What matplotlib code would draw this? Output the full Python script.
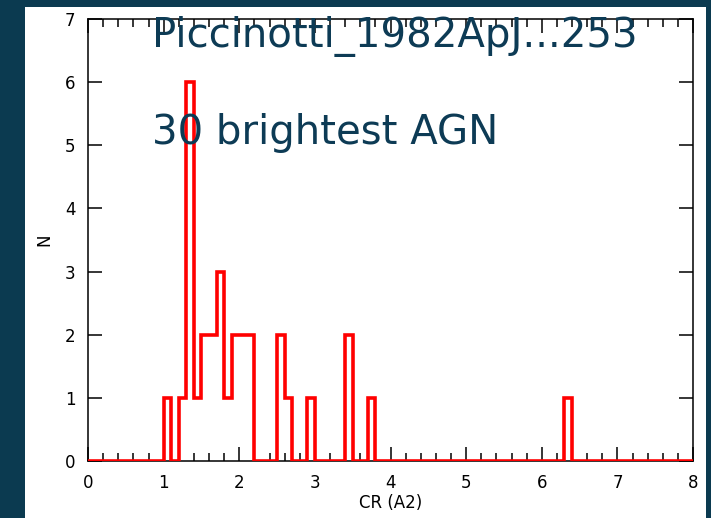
import numpy as np
import matplotlib.pyplot as plt
from matplotlib.patches import Rectangle

# histogram of count rates, 0.1-wide bins from 0 to 8
bin_width = 0.1
x_min, x_max = 0.0, 8.0
bin_lo = [1.0, 1.2, 1.3, 1.4, 1.5, 1.6, 1.7, 1.8, 1.9, 2.0, 2.1, 2.5, 2.6, 2.9, 3.4, 3.7, 6.3]
bin_n = [1, 1, 6, 1, 2, 2, 3, 1, 2, 2, 2, 2, 1, 1, 2, 1, 1]

title_lines = ["Piccinotti_1982ApJ...253", "30 brightest AGN"]
x_label = "CR (A2)"
y_label = "N"

edges = np.round(np.arange(x_min, x_max + bin_width / 2, bin_width), 2)
counts = np.zeros(len(edges) - 1)
for lo, n in zip(bin_lo, bin_n):
    counts[int(round((lo - x_min) / bin_width))] = n

W, H = 711, 518
fig = plt.figure(figsize=(W / 100, H / 100), dpi=100)
fig.patch.set_facecolor('#0b3a50')

# white slide panel behind the plot
fig.patches.append(Rectangle((25 / W, 0), (706 - 25) / W, 511 / H,
                             transform=fig.transFigure, facecolor='white',
                             edgecolor='none', zorder=-5))

ax = fig.add_axes([88 / W, (H - 461) / H, (693 - 88) / W, (461 - 19) / H])
ax.set_facecolor('white')
ax.set_zorder(1)

ax.stairs(counts, edges, color='red', linewidth=2.6, zorder=3)

ax.set_xlim(x_min, x_max)
ax.set_ylim(0, 7)
ax.set_xticks(np.arange(0, 9, 1))
ax.set_xticks(np.arange(0, 8.01, 0.2), minor=True)
ax.set_yticks(np.arange(0, 8, 1))

for s in ax.spines.values():
    s.set_linewidth(1.1)
    s.set_color('black')

ax.tick_params(axis='x', which='major', direction='in', length=10, width=1.1,
               top=True, bottom=True, labelsize=12, pad=9)
ax.tick_params(axis='x', which='minor', direction='in', length=6, width=1.1,
               top=True, bottom=True)
ax.tick_params(axis='y', which='major', direction='in', length=10, width=1.1,
               left=True, right=True, labelsize=12, pad=9)

ax.set_xlabel(x_label, fontsize=12, labelpad=2)
ax.set_ylabel(y_label, fontsize=12, labelpad=8)

fig.text(152 / W, (H - 47) / H, title_lines[0], fontsize=29, color='#0d3b55',
         va='baseline', ha='left', zorder=5)
fig.text(152 / W, (H - 144) / H, title_lines[1], fontsize=29, color='#0d3b55',
         va='baseline', ha='left', zorder=5)

fig.savefig('out.png', dpi=100, facecolor=fig.get_facecolor())
